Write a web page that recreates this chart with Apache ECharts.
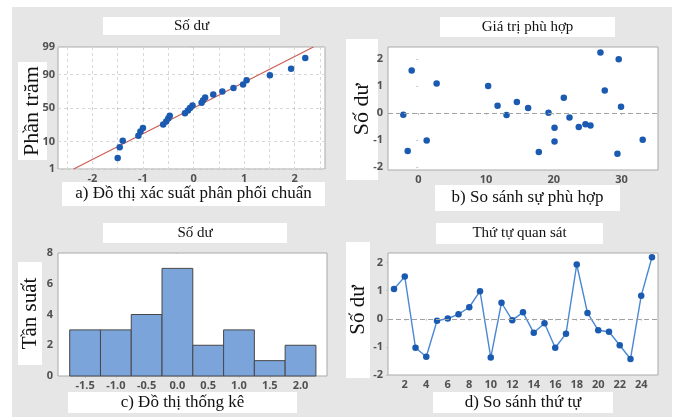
<!DOCTYPE html>
<html><head><meta charset="utf-8">
<script src="https://cdn.jsdelivr.net/npm/echarts@6/dist/echarts.min.js"></script>
<style>html,body{margin:0;padding:0;background:#fff}#c{width:677px;height:417px}</style>
</head><body><div id="c"></div><script>
// ---- Panel a: normal probability plot of residuals ----
const probResid = [-1.50,-1.46,-1.40,-1.09,-1.05,-1.00,-0.60,-0.54,-0.50,-0.47,-0.17,-0.11,-0.07,-0.02,0.16,0.19,0.23,0.39,0.57,0.79,0.98,1.05,1.51,1.93,2.21];
const probPercent = [2.8,6.7,10.6,14.6,18.5,22.4,26.4,30.3,34.3,38.2,42.1,46.1,50,53.9,57.9,61.8,65.7,69.7,73.6,77.6,81.5,85.4,89.4,93.3,97.2];
const fitLineResid = [-2.37, 2.37];
const fitLinePercent = [1, 99];
const probTickPercent = [1, 10, 50, 90, 99];
const probXTicks = [-2, -1, 0, 1, 2];
const probXGrid = [-2.5,-2,-1.5,-1,-0.5,0,0.5,1,1.5,2,2.5];
// ---- Panel b: residuals vs fitted values ----
const fittedValues = [-2.21,-1.56,-0.97,1.24,2.71,10.32,11.71,13.04,14.56,16.22,17.80,19.23,20.12,20.12,21.49,22.33,23.70,24.69,25.43,26.90,27.54,29.60,29.41,29.94,33.14];
const fittedResid = [-0.06,-1.40,1.57,-1.01,1.09,1.00,0.27,-0.07,0.41,0.19,-1.44,0.01,-0.54,-1.05,0.57,-0.16,-0.51,-0.41,-0.46,2.24,0.83,1.99,-1.50,0.23,-0.98];
const fittedTicks = [0, 10, 20, 30];
// ---- Panel c: histogram ----
const histCenters = [-1.5,-1.0,-0.5,0.0,0.5,1.0,1.5,2.0];
const histCounts = [3,3,4,7,2,3,1,2];
const histBinWidth = 0.5;
// ---- Panel d: residuals vs observation order ----
const orderIndex = [1,2,3,4,5,6,7,8,9,10,11,12,13,14,15,16,17,18,19,20,21,22,23,24,25];
const orderResid = [1.06,1.50,-1.03,-1.35,-0.07,0.01,0.16,0.41,0.98,-1.38,0.57,-0.05,0.23,-0.50,-0.16,-1.03,-0.53,1.93,0.21,-0.41,-0.46,-0.94,-1.43,0.82,2.19];
const orderTicks = [2,4,6,8,10,12,14,16,18,20,22,24];
const residTicks = [-2,-1,0,1,2];

// inverse normal CDF (probability axis scale)
function probit(p){
  const a=[-3.969683028665376e+01,2.209460984245205e+02,-2.759285104469687e+02,1.383577518672690e+02,-3.066479806614716e+01,2.506628277459239e+00];
  const b=[-5.447609879822406e+01,1.615858368580409e+02,-1.556989798598866e+02,6.680131188771972e+01,-1.328068155288572e+01];
  const c=[-7.784894002430293e-03,-3.223964580411365e-01,-2.400758277161838e+00,-2.549732539343734e+00,4.374664141464968e+00,2.938163982698783e+00];
  const d=[7.784695709041462e-03,3.224671290700398e-01,2.445134137142996e+00,3.754408661907416e+00];
  const pl=0.02425, ph=1-pl; let q,r;
  if(p<pl){q=Math.sqrt(-2*Math.log(p));return (((((c[0]*q+c[1])*q+c[2])*q+c[3])*q+c[4])*q+c[5])/((((d[0]*q+d[1])*q+d[2])*q+d[3])*q+1);}
  if(p<=ph){q=p-0.5;r=q*q;return (((((a[0]*r+a[1])*r+a[2])*r+a[3])*r+a[4])*r+a[5])*q/(((((b[0]*r+b[1])*r+b[2])*r+b[3])*r+b[4])*r+1);}
  q=Math.sqrt(-2*Math.log(1-p));return -(((((c[0]*q+c[1])*q+c[2])*q+c[3])*q+c[4])*q+c[5])/((((d[0]*q+d[1])*q+d[2])*q+d[3])*q+1);
}
const probTickZ = probTickPercent.map(p => probit(p/100));

const chart = echarts.init(document.getElementById('c'), null, {renderer:'canvas'});
const tickFont = {fontFamily:'Open Sans', fontWeight:'bold', fontSize:11, color:'#505050'};
const borderC = '#a9a9a9';
const dotC = '#1a5ab0';
const tickLine = {color:'#c4c4c4'};

function baseAxis(extra){
  return Object.assign({
    type:'value', axisLine:{show:false},
    axisTick:{show:true, length:2, lineStyle:tickLine},
    splitLine:{show:false}
  }, extra);
}

const grids = [
  {left:58, top:47, width:267, height:122},
  {left:388, top:47, width:270, height:123},
  {left:58, top:253, width:269, height:123},
  {left:388, top:253, width:270, height:122}
].map(g => Object.assign({show:true, backgroundColor:'#fff', borderColor:borderC, borderWidth:1}, g));

const gridLine = {show:true, lineStyle:{type:[3,3], color:'#d8d8d8', width:1}};

const option = {
  backgroundColor:'#e6e6e6',
  animation:false,
  grid: grids,
  xAxis: [
    baseAxis({gridIndex:0, min:-2.68, max:2.60,
      axisLabel:Object.assign({customValues:probXTicks, margin:4}, tickFont),
      axisTick:{show:true, length:2, customValues:probXGrid, lineStyle:tickLine},
      splitLine:gridLine}),
    baseAxis({gridIndex:1, min:-4.47, max:35.4,
      axisLabel:Object.assign({customValues:fittedTicks, margin:4}, tickFont),
      axisTick:{show:true, length:2, customValues:fittedTicks, lineStyle:tickLine}}),
    baseAxis({gridIndex:2, min:-1.94, max:2.43,
      axisLabel:Object.assign({customValues:histCenters, margin:4, formatter:v=>v.toFixed(1)}, tickFont),
      axisTick:{show:true, length:2, customValues:histCenters, lineStyle:tickLine}}),
    baseAxis({gridIndex:3, min:0.44, max:25.56,
      axisLabel:Object.assign({customValues:orderTicks, margin:4}, tickFont),
      axisTick:{show:true, length:2, customValues:orderTicks, lineStyle:tickLine}})
  ],
  yAxis: [
    baseAxis({gridIndex:0, min:probTickZ[0], max:probTickZ[probTickZ.length-1],
      axisLabel:Object.assign({customValues:probTickZ, margin:3,
        formatter:v=>{let i=probTickZ.findIndex(z=>Math.abs(z-v)<1e-6);return i>=0?String(probTickPercent[i]):'';}}, tickFont),
      axisTick:{show:true, length:2, customValues:probTickZ, lineStyle:tickLine},
      splitLine:gridLine}),
    baseAxis({gridIndex:1, min:-2.10, max:2.44,
      axisLabel:Object.assign({customValues:residTicks, margin:5}, tickFont),
      axisTick:{show:true, length:2, customValues:residTicks, lineStyle:tickLine}}),
    baseAxis({gridIndex:2, min:0, max:8, interval:2,
      axisLabel:Object.assign({margin:5}, tickFont)}),
    baseAxis({gridIndex:3, min:-2.0, max:2.34,
      axisLabel:Object.assign({customValues:residTicks, margin:5}, tickFont),
      axisTick:{show:true, length:2, customValues:residTicks, lineStyle:tickLine}})
  ],
  series: [
    {type:'line', xAxisIndex:0, yAxisIndex:0, data:fitLineResid.map((x,i)=>[x, probit(fitLinePercent[i]/100)]),
      symbol:'none', lineStyle:{color:'#cc5a52', width:1.1}, z:2},
    {type:'scatter', xAxisIndex:0, yAxisIndex:0, data:probResid.map((x,i)=>[x, probit(probPercent[i]/100)]),
      symbolSize:6.5, itemStyle:{color:dotC, opacity:1}, z:3},
    {type:'scatter', xAxisIndex:1, yAxisIndex:1, data:fittedValues.map((x,i)=>[x, fittedResid[i]]),
      symbolSize:6.5, itemStyle:{color:dotC, opacity:1}, z:3,
      markLine:{silent:true, symbol:['none','none'], label:{show:false}, lineStyle:{type:[5,3], color:'#a0a0a0', width:1}, data:[{yAxis:0}]}},
    {type:'custom', xAxisIndex:2, yAxisIndex:2, data:histCenters.map((c,i)=>[c, histCounts[i]]),
      renderItem:(params, api)=>{
        const x=api.value(0), y=api.value(1);
        const p0=api.coord([x-histBinWidth/2, y]);
        const p1=api.coord([x+histBinWidth/2, 0]);
        return {type:'rect', shape:{x:p0[0], y:p0[1], width:p1[0]-p0[0], height:p1[1]-p0[1]},
          style:{fill:'#7ba4db', stroke:'#474747', lineWidth:1}};
      }},
    {type:'line', xAxisIndex:3, yAxisIndex:3, data:orderIndex.map((x,i)=>[x, orderResid[i]]),
      symbol:'circle', symbolSize:6.5, lineStyle:{color:'#4a88d4', width:1.4}, itemStyle:{color:dotC, opacity:1}, z:3,
      markLine:{silent:true, symbol:['none','none'], label:{show:false}, lineStyle:{type:[5,3], color:'#a0a0a0', width:1}, data:[{yAxis:0}]}}
  ],
  graphic: []
};

const serif = 'Liberation Serif';
function box(x, y, w, h, text, size, vertical){
  option.graphic.push({type:'rect', shape:{x:x, y:y, width:w, height:h}, style:{fill:'#fff'}, silent:true});
  option.graphic.push({type:'text', x:x+w/2, y:y+h/2, rotation:vertical?Math.PI/2:0,
    style:{text:text, font:size+'px "'+serif+'"', fill:'#111', align:'center', verticalAlign:'middle'}, silent:true});
}
// outer white margins
option.graphic.push({type:'rect', shape:{x:0, y:0, width:677, height:7}, style:{fill:'#fff'}, silent:true});
option.graphic.push({type:'rect', shape:{x:0, y:0, width:12, height:417}, style:{fill:'#fff'}, silent:true});
option.graphic.push({type:'rect', shape:{x:672, y:0, width:5, height:417}, style:{fill:'#fff'}, silent:true});
// panel a
box(103, 17, 177, 18, 'Số dư', 15, false);
box(18, 62, 29, 98, 'Phần trăm', 22, true);
box(62, 182, 263, 24, 'a) Đồ thị xác suất phân phối chuẩn', 17, false);
// panel b
box(440, 17, 175, 20, 'Giá trị phù hợp', 15, false);
box(346, 39, 32, 141, 'Số dư', 22, true);
box(435, 185, 185, 26, 'b) So sánh sự phù hợp', 17, false);
// panel c
box(103, 223, 184, 20, 'Số dư', 15, false);
box(18, 262, 24, 103, 'Tần suất', 21, true);
box(68, 392, 229, 21, 'c) Đồ thị thống kê', 17, false);
// panel d
box(436, 223, 167, 21, 'Thứ tự quan sát', 15, false);
box(346, 242, 24, 136, 'Số dư', 21, true);
box(433, 392, 180, 21, 'd) So sánh thứ tự', 17, false);

chart.setOption(option);
</script></body></html>
